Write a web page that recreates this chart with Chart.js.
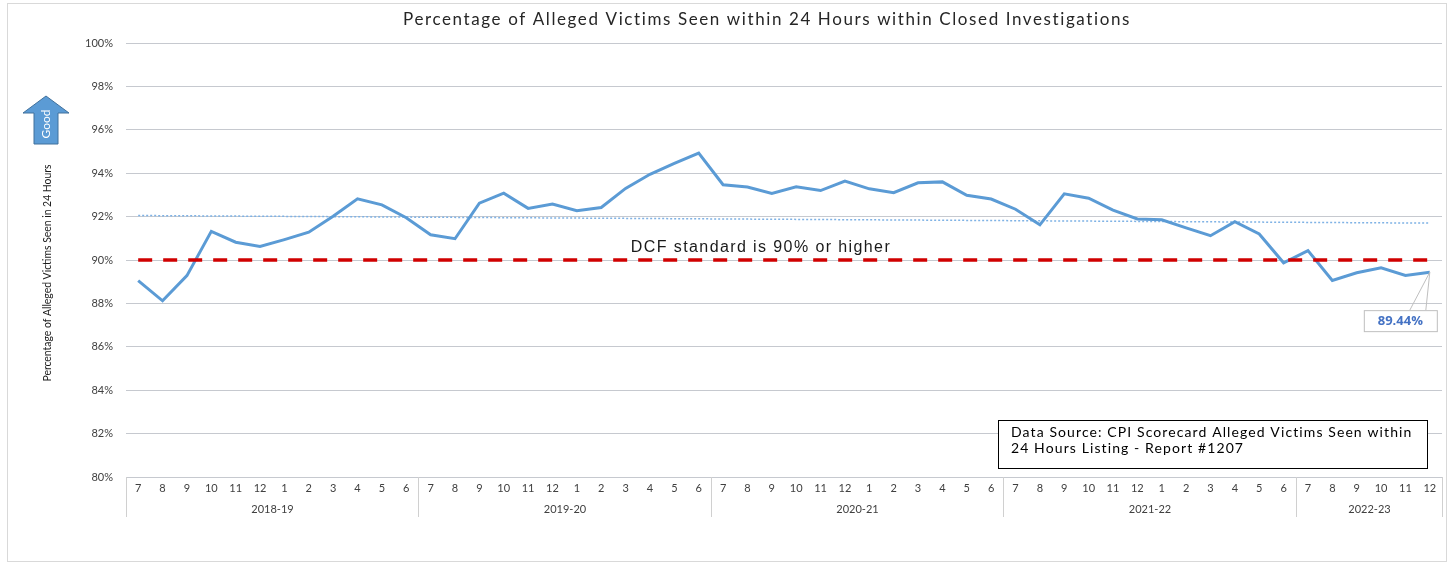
<!DOCTYPE html>
<html>
<head>
<meta charset="utf-8">
<script src="https://cdn.jsdelivr.net/npm/chart.js@4"></script>
<style>
  body { margin: 0; background: #fff; }
  canvas { display: block; }
</style>
</head>
<body>
<canvas id="grafico" width="1450" height="563"></canvas>
<script>
// --- dados ---
const monthLabels = [
  '7','8','9','10','11','12','1','2','3','4','5','6',
  '7','8','9','10','11','12','1','2','3','4','5','6',
  '7','8','9','10','11','12','1','2','3','4','5','6',
  '7','8','9','10','11','12','1','2','3','4','5','6',
  '7','8','9','10','11','12'
];
const fiscalYears = ['2018-19', '2019-20', '2020-21', '2021-22', '2022-23'];
const monthsPerYear = [12, 12, 12, 12, 6];

const pctSeen = [
  89.05, 88.12, 89.28, 91.32, 90.82, 90.62, 90.94, 91.28, 92.02, 92.82, 92.54, 91.95,
  91.16, 90.98, 92.62, 93.08, 92.38, 92.58, 92.27, 92.42, 93.30, 93.95, 94.45, 94.93,
  93.47, 93.36, 93.07, 93.37, 93.20, 93.64, 93.28, 93.10, 93.56, 93.60, 92.98, 92.81,
  92.34, 91.62, 93.05, 92.85, 92.30, 91.89, 91.85, 91.48, 91.12, 91.77, 91.20, 89.87,
  90.43, 89.06, 89.41, 89.64, 89.29, 89.44
];
const trendEnds = [92.05, 91.70];     // linha de tendência (início, fim)
const standardEnds = [90, 90];        // padrão DCF
const yTicks = [80, 82, 84, 86, 88, 90, 92, 94, 96, 98, 100];

const titulo = 'Percentage of Alleged Victims Seen within 24 Hours within Closed Investigations';
const tituloEixoY = 'Percentage of Alleged Victims Seen in 24 Hours';
const textoPadrao = 'DCF standard is 90% or higher';
const fonteDados = ['Data Source: CPI Scorecard Alleged Victims Seen within', '24 Hours Listing - Report #1207'];

// serie só com as pontas, o resto fica null
function pontas(ends) {
  return monthLabels.map((_, i) =>
    i === 0 ? ends[0] : (i === monthLabels.length - 1 ? ends[1] : null));
}

const decoracao = {
  id: 'decoracao',
  beforeDraw(chart) {
    const ctx = chart.ctx;
    ctx.save();
    ctx.fillStyle = '#fff';
    ctx.fillRect(0, 0, chart.width, chart.height);
    ctx.strokeStyle = '#d9d9d9';
    ctx.lineWidth = 1;
    ctx.strokeRect(7.5, 3.5, 1439, 558);
    ctx.restore();
  },
  afterDraw(chart) {
    const ctx = chart.ctx;
    const x = chart.scales.x;
    const area = chart.chartArea;
    ctx.save();

    // titulo
    ctx.fillStyle = '#262626';
    ctx.font = '17px Lato';
    ctx.textAlign = 'center';
    ctx.textBaseline = 'middle';
    ctx.letterSpacing = '1.6px';
    ctx.fillText(titulo, 767, 20);
    ctx.letterSpacing = '0px';

    // titulo do eixo Y
    ctx.save();
    ctx.translate(47, 273);
    ctx.rotate(-Math.PI / 2);
    ctx.font = '12px Lato';
    const w = ctx.measureText(tituloEixoY).width;
    ctx.scale(Math.min(1, 217 / w), 1);
    ctx.fillStyle = '#1a1a1a';
    ctx.fillText(tituloEixoY, 0, 0);
    ctx.restore();

    // seta "Good"
    ctx.beginPath();
    ctx.moveTo(46, 96);
    ctx.lineTo(69, 113);
    ctx.lineTo(58, 113);
    ctx.lineTo(58, 144);
    ctx.lineTo(34, 144);
    ctx.lineTo(34, 113);
    ctx.lineTo(23, 113);
    ctx.closePath();
    ctx.fillStyle = '#5b9bd5';
    ctx.fill();
    ctx.strokeStyle = '#41719c';
    ctx.lineWidth = 1;
    ctx.stroke();
    ctx.save();
    ctx.translate(46, 124);
    ctx.rotate(-Math.PI / 2);
    ctx.fillStyle = '#fff';
    ctx.font = '12px Lato';
    ctx.fillText('Good', 0, 0);
    ctx.restore();

    // texto do padrão
    ctx.fillStyle = '#1a1a1a';
    ctx.font = '16px "Liberation Sans"';
    ctx.letterSpacing = '1.4px';
    ctx.fillText(textoPadrao, 761, chart.scales.y.getPixelForValue(standardEnds[0]) - 12);
    ctx.letterSpacing = '0px';

    // caixas dos anos fiscais no eixo X
    ctx.strokeStyle = '#d0d0d0';
    ctx.lineWidth = 1;
    ctx.fillStyle = '#404040';
    ctx.font = '11px Lato';
    let inicio = 0;
    monthsPerYear.forEach((n, g) => {
      const x0 = Math.round(x.getPixelForValue(inicio - 0.5)) + 0.5;
      const x1 = Math.round(x.getPixelForValue(inicio + n - 0.5)) + 0.5;
      ctx.beginPath();
      ctx.moveTo(x0, area.bottom);
      ctx.lineTo(x0, area.bottom + 40);
      if (g === monthsPerYear.length - 1) {
        ctx.moveTo(x1, area.bottom);
        ctx.lineTo(x1, area.bottom + 40);
      }
      ctx.stroke();
      ctx.fillText(fiscalYears[g], (x0 + x1) / 2, area.bottom + 32);
      inicio += n;
    });

    // rotulo do ultimo ponto
    const meta = chart.getDatasetMeta(0);
    const ultimo = meta.data[meta.data.length - 1];
    const valor = pctSeen[pctSeen.length - 1];
    const bx = ultimo.x - 66, by = ultimo.y + 38, bw = 73, bh = 21;
    ctx.strokeStyle = '#bfbfbf';
    ctx.beginPath();
    ctx.moveTo(ultimo.x, ultimo.y);
    ctx.lineTo(bx + 46, by);
    ctx.moveTo(ultimo.x, ultimo.y);
    ctx.lineTo(bx + 62, by);
    ctx.stroke();
    ctx.fillStyle = '#fff';
    ctx.fillRect(bx, by, bw, bh);
    ctx.strokeRect(bx + 0.5, by + 0.5, bw, bh);
    ctx.fillStyle = '#4472c4';
    ctx.font = 'bold 13px "Open Sans"';
    ctx.fillText(valor.toFixed(2) + '%', bx + bw / 2, by + bh / 2 + 1);

    // caixa da fonte dos dados
    ctx.fillStyle = '#fff';
    ctx.fillRect(998, 420, 429, 48);
    ctx.strokeStyle = '#000';
    ctx.strokeRect(998.5, 420.5, 429, 48);
    ctx.fillStyle = '#000';
    ctx.textAlign = 'left';
    ctx.font = '14px Lato';
    ctx.letterSpacing = '1.1px';
    ctx.fillText(fonteDados[0], 1011, 432);
    ctx.fillText(fonteDados[1], 1011, 448);
    ctx.letterSpacing = '0px';

    ctx.restore();
  }
};

const ctx = document.getElementById('grafico').getContext('2d');
new Chart(ctx, {
  type: 'line',
  data: {
    labels: monthLabels,
    datasets: [
      {
        label: 'Seen within 24 hours',
        data: pctSeen,
        borderColor: '#5b9bd5',
        borderWidth: 3,
        pointRadius: 0,
        tension: 0,
        order: 1
      },
      {
        label: 'DCF standard',
        data: pontas(standardEnds),
        borderColor: '#d00000',
        borderWidth: 3.5,
        borderDash: [14, 11],
        pointRadius: 0,
        spanGaps: true,
        order: 0
      },
      {
        label: 'Trend',
        data: pontas(trendEnds),
        borderColor: '#7fb2e5',
        borderWidth: 1.5,
        borderDash: [2, 2],
        pointRadius: 0,
        spanGaps: true,
        order: 2
      }
    ]
  },
  options: {
    responsive: false,
    animation: false,
    layout: { padding: { left: 0, right: 8, top: 43, bottom: 0 } },
    plugins: {
      legend: { display: false },
      tooltip: { enabled: false },
      title: { display: false }
    },
    scales: {
      x: {
        offset: true,
        grid: { display: false, drawTicks: false },
        border: { display: false },
        ticks: {
          autoSkip: false,
          maxRotation: 0,
          padding: 5,
          color: '#404040',
          font: { family: 'Lato', size: 11 }
        },
        afterFit(scale) { scale.height = 86; }
      },
      y: {
        min: 80,
        max: 100,
        grid: { color: '#c6c9cf', lineWidth: 1, drawTicks: false },
        border: { display: false },
        afterBuildTicks(scale) { scale.ticks = yTicks.map(v => ({ value: v })); },
        ticks: {
          padding: 13,
          color: '#404040',
          font: { family: 'Lato', size: 11 },
          callback: (v) => v + '%'
        },
        afterFit(scale) { scale.width = 126; }
      }
    }
  },
  plugins: [decoracao]
});
</script>
</body>
</html>
